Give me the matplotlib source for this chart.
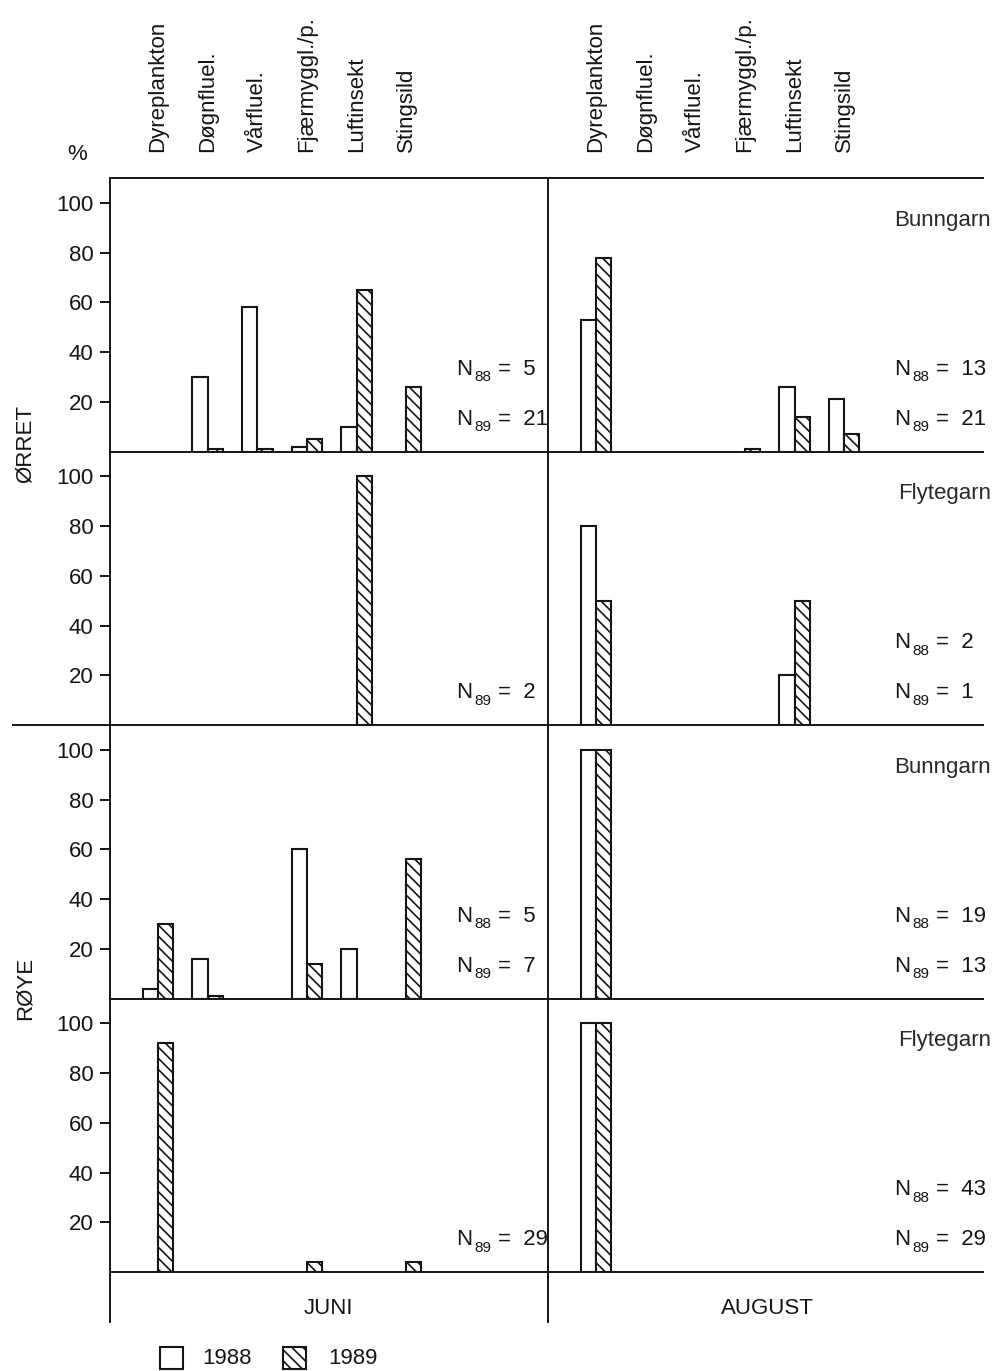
import matplotlib

matplotlib.use("Agg")
import matplotlib.pyplot as plt
from matplotlib.lines import Line2D
from matplotlib.patches import Rectangle

# prey categories (same order in every panel)
categories = ["Dyreplankton", "Døgnfluel.", "Vårfluel.", "Fjærmyggl./p.", "Luftinsekt", "Stingsild"]

# % of stomach content, 1988 / 1989
orret_bunn_juni_88 = [0, 30, 58, 2, 10, 0]
orret_bunn_juni_89 = [0, 1, 1, 5, 65, 26]
orret_bunn_aug_88 = [53, 0, 0, 0, 26, 21]
orret_bunn_aug_89 = [78, 0, 0, 1, 14, 7]

orret_flyt_juni_88 = [0, 0, 0, 0, 0, 0]
orret_flyt_juni_89 = [0, 0, 0, 0, 100, 0]
orret_flyt_aug_88 = [80, 0, 0, 0, 20, 0]
orret_flyt_aug_89 = [50, 0, 0, 0, 50, 0]

roye_bunn_juni_88 = [4, 16, 0, 60, 20, 0]
roye_bunn_juni_89 = [30, 1, 0, 14, 0, 56]
roye_bunn_aug_88 = [100, 0, 0, 0, 0, 0]
roye_bunn_aug_89 = [100, 0, 0, 0, 0, 0]

roye_flyt_juni_88 = [0, 0, 0, 0, 0, 0]
roye_flyt_juni_89 = [92, 0, 0, 4, 0, 4]
roye_flyt_aug_88 = [100, 0, 0, 0, 0, 0]
roye_flyt_aug_89 = [100, 0, 0, 0, 0, 0]

# sample sizes (N88, N89); None = not given
n_orret_bunn_juni = (5, 21)
n_orret_bunn_aug = (13, 21)
n_orret_flyt_juni = (None, 2)
n_orret_flyt_aug = (2, 1)
n_roye_bunn_juni = (5, 7)
n_roye_bunn_aug = (19, 13)
n_roye_flyt_juni = (None, 29)
n_roye_flyt_aug = (43, 29)

gear_labels = ["Bunngarn", "Flytegarn", "Bunngarn", "Flytegarn"]
month_labels = ["JUNI", "AUGUST"]
yticks = [20, 40, 60, 80, 100]

panels = [
    [(orret_bunn_juni_88, orret_bunn_juni_89, n_orret_bunn_juni),
     (orret_bunn_aug_88, orret_bunn_aug_89, n_orret_bunn_aug)],
    [(orret_flyt_juni_88, orret_flyt_juni_89, n_orret_flyt_juni),
     (orret_flyt_aug_88, orret_flyt_aug_89, n_orret_flyt_aug)],
    [(roye_bunn_juni_88, roye_bunn_juni_89, n_roye_bunn_juni),
     (roye_bunn_aug_88, roye_bunn_aug_89, n_roye_bunn_aug)],
    [(roye_flyt_juni_88, roye_flyt_juni_89, n_roye_flyt_juni),
     (roye_flyt_aug_88, roye_flyt_aug_89, n_roye_flyt_aug)],
]

plt.rcParams["font.family"] = ["Liberation Sans", "DejaVu Sans"]
plt.rcParams["hatch.linewidth"] = 1.2

INK = "#151515"
FS = 16
LW = 1.4
BAR_LW = 1.5
HATCH = "\\\\\\"

W, H = 993, 1371
fig = plt.figure(figsize=(W / 100, H / 100), dpi=100)


def fx(px):
    return px / W


def fy(py):
    return 1 - py / H


LEFT, MID, RIGHT = 110, 548, 983
TOP, BOTTOM = 178, 1272
row_h = (BOTTOM - TOP) / 4
UNIT = 49.6  # pixels per category step
X0 = 0.03
BW = 0.31
xs = [i + 1 for i in range(len(categories))]

for r, row in enumerate(panels):
    for c, (v88, v89, (n88, n89)) in enumerate(row):
        xl, xr = (LEFT, MID) if c == 0 else (MID, RIGHT)
        ax = fig.add_axes([fx(xl), fy(TOP + (r + 1) * row_h), (xr - xl) / W, row_h / H])
        ax.set_xlim(X0, X0 + (xr - xl) / UNIT)
        ax.set_ylim(0, 110)
        ax.patch.set_alpha(0)
        for side in ("left", "bottom", "top"):
            ax.spines[side].set_linewidth(LW)
            ax.spines[side].set_color(INK)
        ax.spines["right"].set_visible(False)
        ax.spines["top"].set_visible(r == 0)
        ax.set_xticks([])
        if c == 0:
            ax.set_yticks(yticks)
            ax.tick_params(axis="y", direction="out", length=7, width=LW,
                           color=INK, labelsize=FS, labelcolor=INK, pad=5)
        else:
            ax.set_yticks([])

        for x, a, b in zip(xs, v88, v89):
            if a > 0:
                ax.bar(x - BW, a, width=BW, align="edge", facecolor="white",
                       edgecolor=INK, linewidth=BAR_LW, zorder=3)
            if b > 0:
                ax.bar(x, b, width=BW, align="edge", facecolor="white",
                       edgecolor=INK, linewidth=BAR_LW, hatch=HATCH, zorder=3)

        if r == 0:
            for x, name in zip(xs, categories):
                ax.text(x, 1 + 26 / row_h, name, transform=ax.get_xaxis_transform(),
                        rotation=90, ha="center", va="bottom", fontsize=FS, color=INK)

        if c == 1:
            ax.text(X0 + (991 - xl) / UNIT, 93, gear_labels[r], ha="right",
                    va="center", fontsize=FS, color="#2a2a2a")

        for y, sub, n in ((33, "88", n88), (13, "89", n89)):
            if n is None:
                continue
            ax.text(7.0, y, "N", ha="left", va="center", fontsize=FS, color=INK)
            ax.annotate(sub, xy=(7.0, y), xytext=(19 * 0.72, -8 * 0.72),
                        textcoords="offset points", ha="left", va="center",
                        fontsize=11, color=INK)
            ax.annotate(f"=  {n}", xy=(7.0, y), xytext=(42 * 0.72, 0),
                        textcoords="offset points", ha="left", va="center",
                        fontsize=FS, color=INK)

# frame extensions
for xs_, ys_ in (([13, LEFT], [725, 725]),
                 ([LEFT, LEFT], [BOTTOM, 1322]),
                 ([MID, MID], [BOTTOM, 1322])):
    fig.add_artist(Line2D([fx(v) for v in xs_], [fy(v) for v in ys_],
                          transform=fig.transFigure, color=INK, linewidth=LW))

fig.text(fx(77), fy(155), "%", ha="center", va="center", fontsize=FS, color=INK)
fig.text(fx(25), fy(444), "ØRRET", rotation=90, ha="center", va="center", fontsize=FS, color=INK)
fig.text(fx(25), fy(988), "RØYE", rotation=90, ha="center", va="center", fontsize=FS, color=INK)
fig.text(fx(328), fy(1308), month_labels[0], ha="center", va="center", fontsize=FS, color=INK)
fig.text(fx(767), fy(1308), month_labels[1], ha="center", va="center", fontsize=FS, color=INK)

# legend
for x0, hatch, label, tx in ((160, None, "1988", 202), (283, HATCH, "1989", 328)):
    fig.add_artist(Rectangle((fx(x0), fy(1369)), 23 / W, 22 / H, transform=fig.transFigure,
                             facecolor="white", edgecolor=INK, linewidth=BAR_LW, hatch=hatch))
    fig.text(fx(tx), fy(1358), label, ha="left", va="center", fontsize=FS, color=INK)

fig.savefig("out.png", dpi=100)
plt.close(fig)
